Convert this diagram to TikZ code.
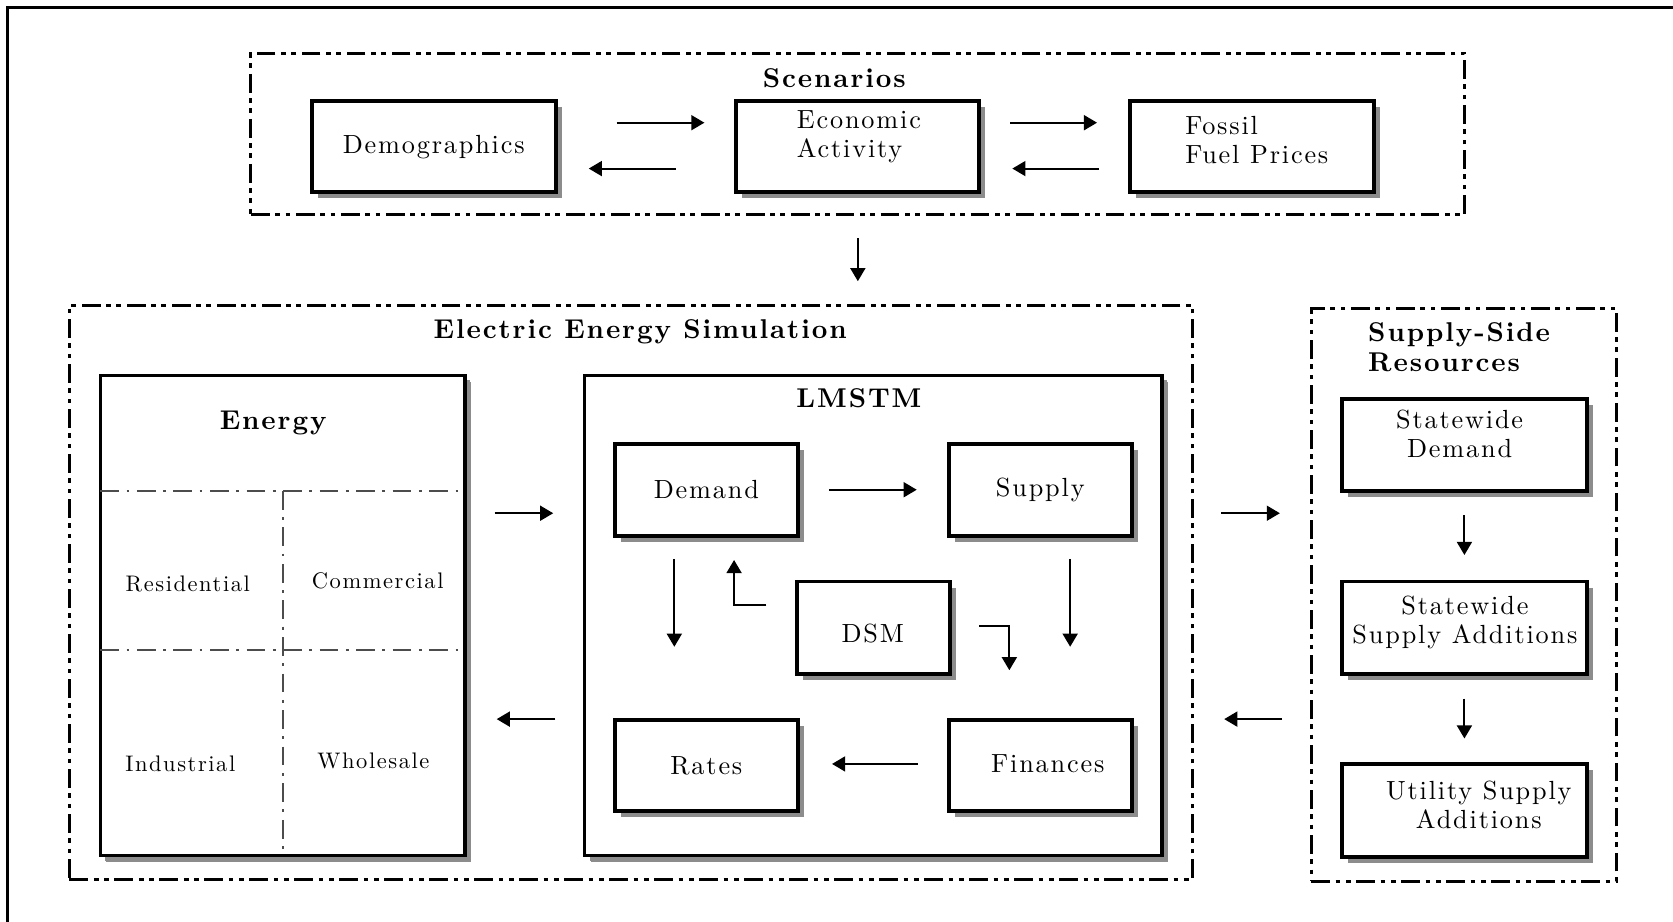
\documentclass[tikz,border=0pt]{standalone}
\usepackage{fontspec}
\setmainfont{lmroman10-regular.otf}[BoldFont=lmroman10-bold.otf, LetterSpace=7]
\usetikzlibrary{arrows.meta,shadows,calc}
\tikzset{
 dframe/.style={draw, line width=1.7pt, dash pattern=on 10pt off 3pt on 2.5pt off 3pt on 2.5pt off 3pt, inner sep=0},
 ebox/.style={draw, line width=2.1pt, fill=white, inner sep=0, font=\fontsize{14}{15.5}\selectfont,
   drop shadow={shadow xshift=3.2pt, shadow yshift=-3.2pt, fill=black!45, opacity=1}},
 bigbox/.style={ebox, line width=1.8pt, drop shadow={shadow xshift=2.6pt, shadow yshift=-2.6pt, fill=black!45, opacity=1}},
 lbl/.style={font=\fontsize{14}{15.5}\selectfont, inner sep=0, align=center},
 ttl/.style={font=\fontsize{14.5}{16}\selectfont\bfseries, inner sep=0, align=center},
 sml/.style={font=\fontsize{12}{14}\selectfont, inner sep=0},
 arr/.style={-{Triangle[length=7pt,width=8pt]}, line width=1pt},
 egrid/.style={line width=1.1pt, black!70, dash pattern=on 10pt off 4pt on 1.5pt off 4pt},
}
\begin{document}
\begin{tikzpicture}[x=0.02cm,y=-0.02cm]
\useasboundingbox (0,0) rectangle (1568,864);
% outer frame (left and top edges visible)
\draw[line width=1.7pt] (7,864) -- (7,7) -- (1568,7);

% dash-dot frames
\node[dframe, minimum width=22.76cm, minimum height=3.02cm] (scen) at (804,125.5) {};
\node[dframe, minimum width=21.06cm, minimum height=10.76cm] (ees) at (591.5,555) {};
\node[dframe, minimum width=5.72cm, minimum height=10.74cm] (ss) at (1372,557.5) {};

% scenarios
\node[ttl] (scenT) at (782,73) {Scenarios};
\node[ebox, minimum width=4.58cm, minimum height=1.7cm] (demog) at (406.5,137.5) {Demographics};
\node[ebox, minimum width=4.56cm, minimum height=1.7cm] (econ) at (804,137.5) {};
\node[lbl, align=left] (econT) at (805,128) {Economic\\Activity};
\node[ebox, minimum width=4.58cm, minimum height=1.7cm] (fossil) at (1173.5,137.5) {};
\node[lbl, align=left] (fossilT) at (1178,131) {Fossil\\Fuel Prices};

% electric energy simulation
\node[ttl] (eesT) at (600,311) {Electric Energy Simulation};
\node[bigbox, minimum width=6.84cm, minimum height=9.0cm] (energy) at (265,577) {};
\node[ttl] (energyT) at (256,396) {Energy};
\draw[egrid] (94,460) -- (430,460);
\draw[egrid] (94,609) -- (430,609);
\draw[egrid] (265,460) -- (265,802);
\node[sml] (res) at (176,547) {Residential};
\node[sml] (com) at (354,544) {Commercial};
\node[sml] (ind) at (169,716) {Industrial};
\node[sml] (whs) at (350,713) {Wholesale};

\node[bigbox, minimum width=10.82cm, minimum height=9.0cm] (lmstm) at (818.5,577) {};
\node[ttl] (lmstmT) at (805,373) {LMSTM};
\node[ebox, minimum width=3.44cm, minimum height=1.72cm] (demand) at (662,459) {Demand};
\node[ebox, minimum width=3.44cm, minimum height=1.72cm] (supply) at (975,459) {Supply};
\node[ebox, minimum width=2.86cm, minimum height=1.74cm] (dsm) at (818.5,588.5) {};
\node[lbl] (dsmT) at (818,594) {DSM};
\node[ebox, minimum width=3.44cm, minimum height=1.7cm] (rates) at (662,717.5) {Rates};
\node[ebox, minimum width=3.44cm, minimum height=1.7cm] (fin) at (975,717.5) {};
\node[lbl] (finT) at (982,716) {Finances};

% supply-side resources
\node[ttl, align=left, anchor=west] (ssT) at (1282,325) {Supply-Side\\Resources};
\node[ebox, minimum width=4.58cm, minimum height=1.72cm] (sdem) at (1372.5,417) {};
\node[lbl] (sdemT) at (1368,407) {Statewide\\Demand};
\node[ebox, minimum width=4.58cm, minimum height=1.74cm] (sadd) at (1372.5,588.5) {};
\node[lbl] (saddT) at (1373,583) {Statewide\\Supply Additions};
\node[ebox, minimum width=4.58cm, minimum height=1.74cm] (uadd) at (1372.5,759.5) {};
\node[lbl] (uaddT) at (1386,754) {Utility Supply\\Additions};

% arrows: scenarios
\draw[arr, shorten <=1.1cm, shorten >=0.56cm] ([yshift=0.45cm]demog.east) -- ([yshift=0.45cm]econ.west);
\draw[arr, shorten <=1.1cm, shorten >=0.58cm] ([yshift=-0.41cm]econ.west) -- ([yshift=-0.41cm]demog.east);
\draw[arr, shorten <=0.54cm, shorten >=0.58cm] ([yshift=0.45cm]econ.east) -- ([yshift=0.45cm]fossil.west);
\draw[arr, shorten <=0.54cm, shorten >=0.58cm] ([yshift=-0.41cm]fossil.west) -- ([yshift=-0.41cm]econ.east);
\draw[arr, shorten <=0.42cm, shorten >=0.42cm] (scen.south) -- (scen.south |- ees.north);

% arrows: energy <-> lmstm
\draw[arr, shorten <=0.52cm, shorten >=0.56cm] ([yshift=1.92cm]energy.east) -- ([yshift=1.92cm]energy.east -| lmstm.west);
\draw[arr, shorten <=0.52cm, shorten >=0.56cm] ([yshift=-1.94cm]energy.east -| lmstm.west) -- ([yshift=-1.94cm]energy.east);

% arrows: ees <-> supply side
\draw[arr, shorten <=0.5cm, shorten >=0.56cm] ([yshift=1.48cm]ees.east) -- ([yshift=1.48cm]ees.east -| ss.west);
\draw[arr, shorten <=0.52cm, shorten >=0.56cm] ([yshift=-2.38cm]ees.east -| ss.west) -- ([yshift=-2.38cm]ees.east);

% arrows inside LMSTM
\draw[arr, shorten <=0.54cm, shorten >=0.56cm] (demand) -- (supply);
\draw[arr, shorten <=0.4cm, shorten >=1.34cm] ([xshift=-0.6cm]demand.south) -- ([xshift=-0.6cm]demand.south |- rates.north);
\draw[arr, shorten <=0.4cm, shorten >=1.34cm] ([xshift=0.56cm]supply.south) -- ([xshift=0.56cm]supply.south |- fin.north);
\draw[arr, shorten <=0.54cm, shorten >=0.6cm] (fin.west |- finT) -- (rates.east |- finT);
\draw[arr] ([xshift=-0.54cm,yshift=0.43cm]dsm.west) -| ([xshift=0.52cm,yshift=-0.42cm]demand.south);
\draw[arr] ([xshift=0.52cm,yshift=0.03cm]dsm.east) -| ([xshift=-0.58cm,yshift=0.9cm]fin.north);

% arrows inside supply side
\draw[arr, shorten <=0.42cm, shorten >=0.46cm] (sdem.south) -- (sadd.north);
\draw[arr, shorten <=0.42cm, shorten >=0.44cm] (sadd.south) -- (uadd.north);
\end{tikzpicture}
\end{document}
